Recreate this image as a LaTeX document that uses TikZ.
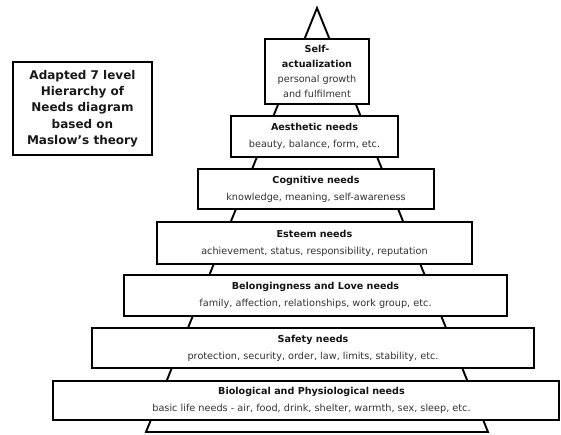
\documentclass[tikz,border=0pt]{standalone}
\usepackage{fontspec}
\setmainfont{DejaVu Sans}
\begin{document}
\begin{tikzpicture}[x=1pt,y=-1pt,
  edge/.style={line width=1.9pt,black},
  level/.style={draw=black,line width=1.7pt,fill=white,inner sep=0pt,align=center,
    text=black!80,font=\fontsize{9.7}{17}\selectfont}]
\useasboundingbox (0,0) rectangle (561,435);
\coordinate (apex) at (317,8);
\coordinate (bl) at (146,432);
\coordinate (br) at (488,432);
\draw[edge,line join=miter] (apex) -- (bl) -- (br) -- cycle;

\newcommand\lvltitle[1]{{\fontsize{9.6}{10}\selectfont\bfseries\color{black!92}#1}}
\node[level,minimum width=506pt,minimum height=39pt] (bio) at (306,400.5)
  {\hspace*{11pt}\lvltitle{Biological and Physiological needs}\\
   \hspace*{11pt}basic life needs - air, food, drink, shelter, warmth, sex, sleep, etc.};
\node[level,minimum width=442pt,minimum height=40pt] (safe) at (313,348)
  {\lvltitle{Safety needs}\\
   protection, security, order, law, limits, stability, etc.};
\node[level,minimum width=383pt,minimum height=41pt] (belo) at (315.5,295.5)
  {\lvltitle{Belongingness and Love needs}\\
   family, affection, relationships, work group, etc.};
\node[level,minimum width=315pt,minimum height=42pt] (este) at (314.5,243)
  {\lvltitle{Esteem needs}\\
   achievement, status, responsibility, reputation};
\node[level,minimum width=236pt,minimum height=40pt] (cogn) at (316,189)
  {\lvltitle{Cognitive needs}\\
   knowledge, meaning, self-awareness};
\node[level,minimum width=167pt,minimum height=41pt] (aest) at (314.5,136.5)
  {\lvltitle{Aesthetic needs}\\
   beauty, balance, form, etc.};
\node[level,minimum width=104pt,minimum height=65pt,font=\fontsize{9.7}{15}\selectfont] (self) at (317,71.5)
  {\lvltitle{Self-}\\
   \lvltitle{actualization}\\
   personal growth\\ and fulfilment};

\node[draw=black,line width=1.7pt,minimum width=139pt,minimum height=93pt,inner sep=0pt,
  align=center,text=black!90,font=\fontsize{12}{16.3}\selectfont\bfseries] (title) at (82.5,108.5)
  {Adapted 7 level\\ Hierarchy of\\ Needs diagram\\ based on\\ Maslow's theory};
\end{tikzpicture}
\end{document}
